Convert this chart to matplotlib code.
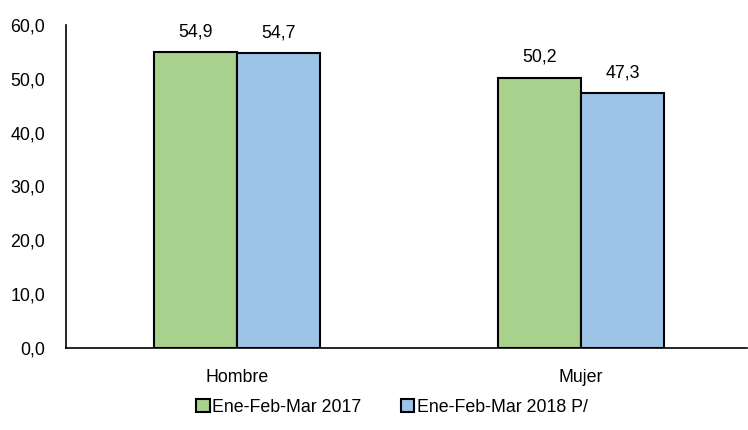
import matplotlib
matplotlib.use("Agg")
import matplotlib.pyplot as plt
import numpy as np

categories = ["Hombre", "Mujer"]
series_names = ["Ene-Feb-Mar 2017", "Ene-Feb-Mar 2018 P/"]
values_2017 = [54.9, 50.2]
values_2018 = [54.7, 47.3]
colors = ["#A9D18E", "#9DC3E6"]

plt.rcParams['font.family'] = ['Liberation Sans', 'DejaVu Sans']
FS = 12.75

fig = plt.figure(figsize=(7.48, 4.30), dpi=100)
ax = fig.add_axes([0.088, 0.191, 0.911, 0.751])

x = np.arange(len(categories))
w = 0.241
for vals, off, col, name in [(values_2017, -w/2, colors[0], series_names[0]),
                             (values_2018, w/2, colors[1], series_names[1])]:
    bars = ax.bar(x + off, vals, width=w, color=col, edgecolor="black", linewidth=1.5, label=name)
    for b, v in zip(bars, vals):
        ax.text(b.get_x() + b.get_width()/2, v + 2.2, f"{v:.1f}".replace(".", ","),
                ha="center", va="bottom", fontsize=FS)

ax.set_xlim(-0.497, 1.483)
ax.set_ylim(0, 60)
ax.set_yticks(np.arange(0, 61, 10))
ax.set_yticklabels([f"{t:.1f}".replace(".", ",") for t in np.arange(0, 61, 10)], fontsize=FS)
ax.set_xticks(x)
ax.set_xticklabels(categories, fontsize=FS)
ax.tick_params(axis="x", length=0, pad=15)
ax.tick_params(axis="y", length=0, pad=15)
for s in ["top", "right"]:
    ax.spines[s].set_visible(False)
ax.spines["left"].set_linewidth(1.2)
ax.spines["bottom"].set_linewidth(1.2)

leg = fig.legend(loc="center", bbox_to_anchor=(0.524, 0.053), ncol=2, frameon=False,
                 fontsize=FS, handlelength=0.75, handleheight=0.75, handletextpad=0.15,
                 columnspacing=2.2)
for h in leg.legend_handles:
    h.set_linewidth(1.5)

fig.savefig("out.png", dpi=100)
